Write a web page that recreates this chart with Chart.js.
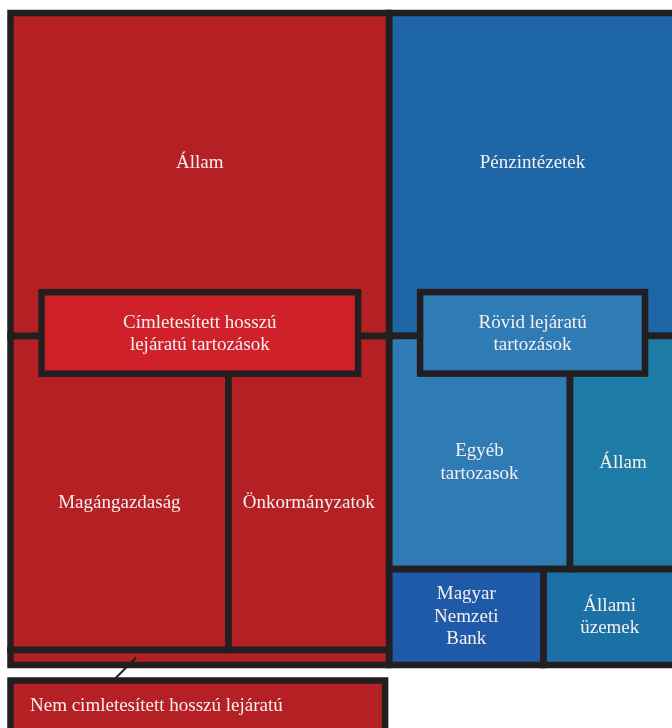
<!DOCTYPE html>
<html><head><meta charset="utf-8">
<script src="https://cdn.jsdelivr.net/npm/chart.js@4.4.1/dist/chart.umd.min.js"></script>
<style>html,body{margin:0;padding:0;overflow:hidden;background:#fff;width:672px;height:728px}canvas{display:block}</style>
</head><body><canvas id="c" width="688" height="728"></canvas>
<script>
// ---- data ----
const longLabels = ["Állam", "Magángazdaság", "Önkormányzatok", "Nem cimletesített hosszú lejáratú"];
const longValues = [1221, 683, 504, 57];
const shortLabels = ["Pénzintézetek", "Egyéb\ntartozasok", "Állam", "Magyar\nNemzeti\nBank", "Állami\nüzemek"];
const shortValues = [925, 421, 247, 148, 127];
const groupLabels = ["Címletesített hosszú\nlejáratú tartozások", "Rövid lejáratú\ntartozások"];

// ---- styles ----
const longColors = ["#B52025", "#B52025", "#B52025", "#B52025"];
const shortColors = ["#1F66A6", "#2F7BB6", "#1C7CA5", "#1E5AA8", "#1B70A5"];
const boxColors = ["#D0212B", "#2F7BB6"];
const BORDER = "#231F20";
const TEXT = "#F6EFEF";
const FONT = '19px "Liberation Serif"';

const sum = a => a.reduce((s, v) => s + v, 0);
const mean = a => sum(a) / a.length;
const total = sum(longValues) + sum(shortValues);

const treemapPlugin = {
  id: 'treemap',
  afterDatasetsDraw(chart) {
    const ctx = chart.ctx;
    const xs = chart.scales.x, ys = chart.scales.y;
    const X = v => xs.getPixelForValue(v), Y = v => ys.getPixelForValue(v);
    const columns = [
      { labels: longLabels, values: longValues, colors: longColors, group: groupLabels[0], box: boxColors[0] },
      { labels: shortLabels, values: shortValues, colors: shortColors, group: groupLabels[1], box: boxColors[1] }
    ];
    const cells = [];
    let x0 = 0;
    columns.forEach(col => {
      const colTotal = sum(col.values);
      const x1 = x0 + colTotal;
      const pxW = Math.abs(X(x1) - X(x0)), pxH = Math.abs(Y(1) - Y(0));
      const aspectAvg = idxs => {
        const s = sum(idxs.map(i => col.values[i]));
        const h = s / colTotal * pxH;
        return mean(idxs.map(i => { const w = col.values[i] / s * pxW; return Math.max(w / h, h / w); }));
      };
      // strip treemap
      const rows = []; let cur = [];
      col.values.forEach((v, i) => {
        if (!cur.length) { cur = [i]; return; }
        const t = cur.concat(i);
        if (aspectAvg(t) <= aspectAvg(cur)) cur = t; else { rows.push(cur); cur = [i]; }
      });
      if (cur.length) rows.push(cur);
      let y0 = 0;
      rows.forEach(r => {
        const s = sum(r.map(i => col.values[i]));
        const y1 = y0 + s / colTotal;
        let cx = x0;
        r.forEach(i => {
          const cx1 = cx + col.values[i] / s * colTotal;
          cells.push({ col, i, x0: cx, x1: cx1, y0, y1 });
          cx = cx1;
        });
        y0 = y1;
      });
      col.x0 = x0; col.x1 = x1;
      col.firstBreak = sum(rows[0].map(i => col.values[i])) / colTotal;
      x0 = x1;
    });

    const px = c => ({ l: X(c.x0), r: X(c.x1), t: Y(c.y0), b: Y(c.y1) });

    ctx.save();
    // fills
    cells.forEach(c => {
      const p = px(c);
      ctx.fillStyle = c.col.colors[c.i];
      ctx.fillRect(p.l, p.t, p.r - p.l, p.b - p.t);
    });
    // borders
    ctx.strokeStyle = BORDER; ctx.lineWidth = 6.5; ctx.lineJoin = 'miter';
    cells.forEach(c => {
      const p = px(c);
      ctx.strokeRect(p.l, p.t, p.r - p.l, p.b - p.t);
    });

    // group label boxes
    const boxes = columns.map(col => {
      const cy = Y(col.firstBreak) - 3;
      const l = X(col.x0) + 31, r = X(col.x1) - 31;
      const t = cy - 40.75, b = cy + 40.75;
      ctx.fillStyle = col.box;
      ctx.fillRect(l, t, r - l, b - t);
      ctx.strokeStyle = BORDER; ctx.lineWidth = 6.5;
      ctx.strokeRect(l, t, r - l, b - t);
      return { l: l - 3.25, r: r + 3.25, t: t - 3.25, b: b + 3.25, cx: (l + r) / 2, cy, text: col.group };
    });

    const drawLines = (text, cx, cy, align) => {
      const lines = text.split("\n");
      const lh = 22.5;
      ctx.font = FONT; ctx.fillStyle = TEXT; ctx.textBaseline = 'middle'; ctx.textAlign = align || 'center';
      lines.forEach((ln, k) => ctx.fillText(ln, cx, cy + (k - (lines.length - 1) / 2) * lh));
    };

    boxes.forEach(bx => drawLines(bx.text, bx.cx, bx.cy + 1));

    // cell labels
    cells.forEach(c => {
      const p = px(c);
      const label = c.col.labels[c.i];
      if (p.b - p.t < 30) {
        // callout below the chart
        const bottom = Y(1);
        const bl = p.l, br = p.r - 4, bt = bottom + 15.5, bb = bt + 52;
        const sx = p.l + (p.r - p.l) * 0.332, sy = (p.t + p.b) / 2;
        ctx.strokeStyle = BORDER; ctx.lineWidth = 2;
        ctx.beginPath(); ctx.moveTo(sx, sy); ctx.lineTo(sx - 23, bt); ctx.stroke();
        ctx.fillStyle = c.col.colors[c.i];
        ctx.fillRect(bl, bt, br - bl, bb - bt);
        ctx.lineWidth = 6.5;
        ctx.strokeRect(bl, bt, br - bl, bb - bt);
        drawLines(label, bl + 19.5, bt + 25.5, 'left');
        return;
      }
      const cellC = (p.t + p.b) / 2;
      let visC = cellC;
      boxes.forEach(bx => {
        if (bx.r > p.l && bx.l < p.r && bx.b > p.t && bx.t < p.b) {
          const above = bx.t - p.t, below = p.b - bx.b;
          visC = above > below ? (p.t + bx.t) / 2 : (bx.b + p.b) / 2;
        }
      });
      drawLines(label, (p.l + p.r) / 2, (cellC + visC) / 2);
    });
    ctx.restore();
  }
};

new Chart(document.getElementById('c'), {
  type: 'scatter',
  data: { datasets: [{ data: [], pointRadius: 0 }] },
  options: {
    responsive: false,
    animation: false,
    devicePixelRatio: 1,
    layout: { padding: { left: 10.5, top: 13, right: 12, bottom: 63 } },
    scales: {
      x: { type: 'linear', min: 0, max: total, display: false },
      y: { type: 'linear', min: 0, max: 1, reverse: true, display: false }
    },
    plugins: { legend: { display: false }, tooltip: { enabled: false } }
  },
  plugins: [treemapPlugin]
});
</script>
</body></html>
